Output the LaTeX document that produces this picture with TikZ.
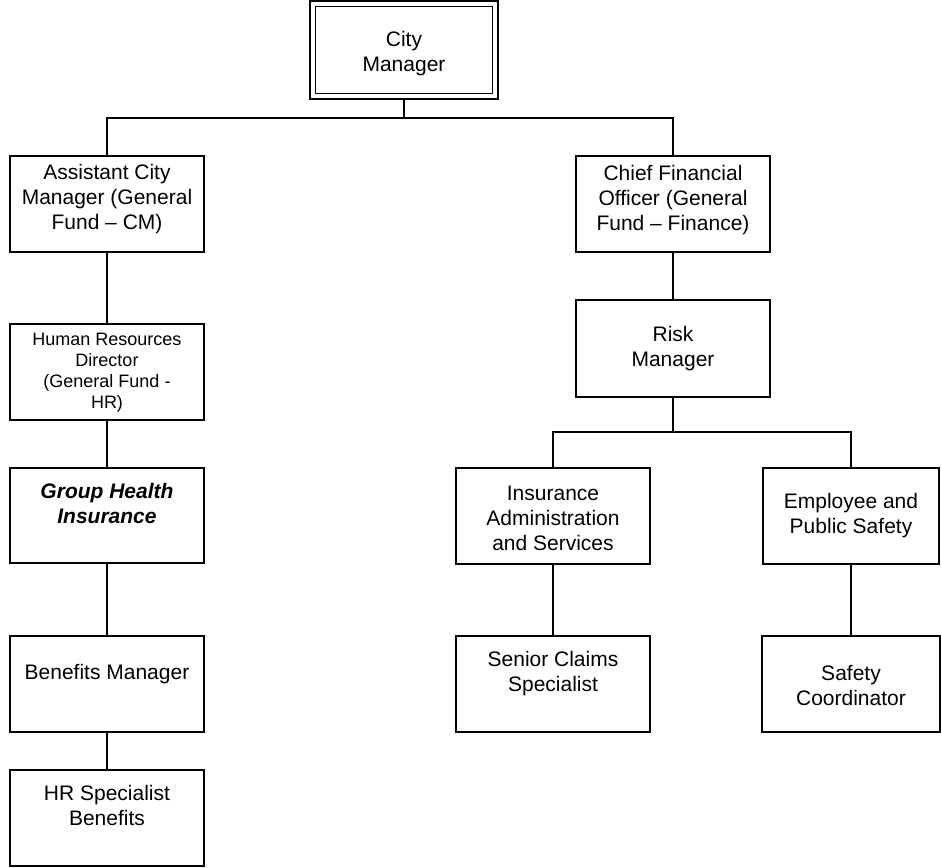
\documentclass[tikz,border=0pt]{standalone}
\usepackage{fontspec}
\setmainfont{Liberation Sans}
\usetikzlibrary{calc}
\begin{document}
\begin{tikzpicture}[x=1pt,y=-1pt,
  box/.style={draw=black, line width=1.1pt, minimum width=194pt, minimum height=96pt, inner sep=0pt, outer sep=0pt},
  keybox/.style={box, line width=2.6pt},
  lbl/.style={align=center, font=\fontsize{21}{25}\selectfont, inner sep=0pt},
  smalllbl/.style={align=center, font=\fontsize{18}{21}\selectfont, inner sep=0pt},
  link/.style={line width=1.1pt}]
\useasboundingbox (0,0) rectangle (941,867);

% ---- boxes ----
\node[box, line width=2pt, minimum width=188pt, minimum height=98pt] (cm) at (404,50) {};
\draw[line width=1.3pt] ($(cm.north west)+(5.5,5.5)$) rectangle ($(cm.south east)+(-5.5,-5.5)$);

\node[box] (acm) at (107,204) {};
\node[box] (cfo) at (673,204) {};
\node[box] (hrd) at (107,372) {};
\node[box, minimum height=97pt] (risk) at (673,348.5) {};
\node[keybox, minimum height=95pt] (ghi) at (107,515.5) {};
\node[keybox] (ins) at (553,516) {};
\node[keybox, minimum width=176pt] (emp) at (851,516) {};
\node[box] (ben) at (107,684) {};
\node[box] (sen) at (553,684) {};
\node[box, minimum width=178pt] (saf) at (851,684) {};
\node[box] (hrs) at (107,818) {};

% ---- labels ----
\node[lbl] (t-cm) at (404,54) {City\\Manager};
\node[lbl] (t-acm) at (107,199) {Assistant City\\Manager (General\\Fund -- CM)};
\node[lbl] (t-cfo) at (673,200) {Chief Financial\\Officer (General\\Fund -- Finance)};
\node[smalllbl] (t-hrd) at (107,373) {Human Resources\\Director\\(General Fund -\\HR)};
\node[lbl] (t-risk) at (673,349) {Risk\\Manager};
\node[lbl, font=\fontsize{21}{25}\selectfont\bfseries\itshape] (t-ghi) at (107,503) {Group Health\\Insurance};
\node[lbl] (t-ins) at (553,518) {Insurance\\Administration\\and Services};
\node[lbl] (t-emp) at (851,516) {Employee and\\Public Safety};
\node[lbl] (t-ben) at (107,674) {Benefits Manager};
\node[lbl] (t-sen) at (553,674) {Senior Claims\\Specialist};
\node[lbl] (t-saf) at (851,685) {Safety\\Coordinator};
\node[lbl] (t-hrs) at (107,805) {HR Specialist\\Benefits};

% ---- connectors ----
\coordinate (topbus) at (404,118);
\coordinate (riskbus) at (673,432);
\draw[link] (cm.south) -- (topbus);
\draw[link] (acm.north) |- (topbus) -| (cfo.north);
\draw[link] (acm.south) -- (hrd.north);
\draw[link] (hrd.south) -- (ghi.north);
\draw[link] (ghi.south) -- (ben.north);
\draw[link] (ben.south) -- (hrs.north);
\draw[link] (cfo.south) -- (risk.north);
\draw[link] (risk.south) -- (riskbus);
\draw[link] (ins.north) |- (riskbus) -| (emp.north);
\draw[link] (ins.south) -- (sen.north);
\draw[link] (emp.south) -- (saf.north);
\end{tikzpicture}
\end{document}
